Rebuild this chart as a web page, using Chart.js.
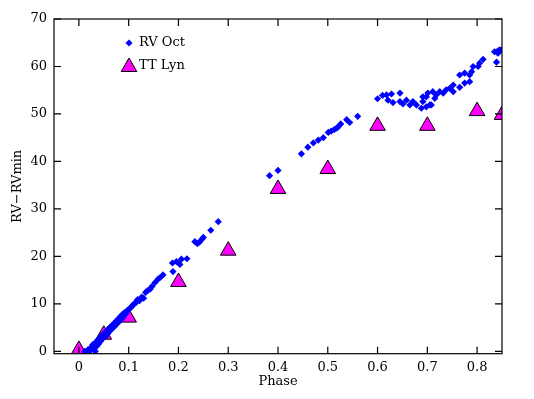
<!DOCTYPE html>
<html>
<head>
<meta charset="utf-8">
<script src="https://cdn.jsdelivr.net/npm/chart.js@4"></script>
<style>
  html, body { margin: 0; padding: 0; background: #fff; }
  #wrap { width: 534px; height: 399px; }
</style>
</head>
<body>
<div id="wrap"><canvas id="rvChart"></canvas></div>
<script>
// RV Oct radial velocity curve (phase, RV - RVmin)
const rvOctPhase = [
  0.012, 0.018, 0.022, 0.025, 0.028, 0.030, 0.033, 0.034, 0.036, 0.038,
  0.040, 0.042, 0.044, 0.046, 0.048, 0.050, 0.053, 0.055, 0.057, 0.059,
  0.061, 0.063, 0.065, 0.067, 0.069, 0.071, 0.073, 0.075, 0.077, 0.079,
  0.081, 0.083, 0.085, 0.087, 0.089, 0.091, 0.094, 0.097, 0.100, 0.103,
  0.106, 0.109, 0.112, 0.115, 0.118, 0.122, 0.126, 0.130, 0.134, 0.138,
  0.143, 0.147, 0.153, 0.159, 0.164, 0.169, 0.188, 0.189, 0.196, 0.203,
  0.206, 0.217, 0.233, 0.238, 0.242, 0.247, 0.250, 0.265, 0.280,
  0.383, 0.400, 0.447, 0.460, 0.471, 0.481, 0.491, 0.501, 0.507, 0.513,
  0.518, 0.522, 0.526, 0.538, 0.544, 0.560,
  0.600, 0.610, 0.618, 0.628, 0.645, 0.621, 0.631, 0.645, 0.651, 0.658,
  0.665, 0.671, 0.678, 0.688, 0.691, 0.691, 0.698, 0.698, 0.701, 0.705,
  0.708, 0.711, 0.715, 0.718, 0.725, 0.732, 0.738, 0.745, 0.752, 0.752,
  0.765, 0.765, 0.775, 0.775, 0.785, 0.785, 0.789, 0.792, 0.802, 0.805,
  0.812, 0.835, 0.839, 0.842, 0.845, 0.849, 0.839
];
const rvOctValue = [
  0.0, 0.3, 0.0, 0.9, 1.4, 0.4, 0.0, 1.9, 1.1, 2.4,
  1.6, 2.9, 2.2, 3.3, 2.7, 3.7, 3.1, 4.2, 3.6, 4.7,
  4.1, 5.1, 4.6, 5.5, 5.0, 5.9, 5.4, 6.4, 5.9, 6.8,
  6.3, 7.3, 6.8, 7.7, 7.2, 8.1, 7.9, 8.6, 8.8, 9.1,
  9.4, 9.8, 10.1, 10.3, 10.9, 10.7, 11.4, 11.2, 12.4, 12.8,
  13.1, 13.7, 14.5, 15.2, 15.6, 16.1, 18.6, 16.8, 18.9, 18.3,
  19.4, 19.5, 23.1, 22.7, 23.0, 23.6, 24.0, 25.5, 27.3,
  37.0, 38.1, 41.6, 43.0, 43.9, 44.5, 45.0, 46.1, 46.4, 46.7,
  47.0, 47.4, 47.9, 48.8, 48.2, 49.5,
  53.2, 53.9, 54.0, 54.2, 54.4, 52.9, 52.4, 52.6, 52.1, 52.9,
  51.9, 52.6, 51.9, 51.2, 52.6, 53.6, 53.6, 51.5, 54.4, 51.9,
  51.9, 54.7, 53.3, 54.0, 54.7, 54.4, 55.1, 55.4, 56.1, 54.7,
  58.2, 55.6, 58.6, 56.5, 58.2, 56.8, 58.9, 60.0, 60.0, 60.7,
  61.5, 63.1, 63.1, 62.8, 63.5, 63.5, 60.9
];

// TT Lyn comparison curve
const ttLynPhase = [0.0, 0.05, 0.1, 0.2, 0.3, 0.4, 0.5, 0.6, 0.7, 0.8, 0.85];
const ttLynValue = [0.3, 3.5, 7.1, 14.6, 21.2, 34.2, 38.4, 47.5, 47.5, 50.6, 49.8];

const xTicks = [0, 0.1, 0.2, 0.3, 0.4, 0.5, 0.6, 0.7, 0.8];
const yTicks = [0, 10, 20, 30, 40, 50, 60, 70];

const fontFamily = '"DejaVu Serif", serif';

// frame with inward ticks on all four sides + legend inside the plot
const framePlugin = {
  id: 'frame',
  afterDraw(chart) {
    const {ctx, chartArea: a, scales: {x, y}} = chart;
    ctx.save();
    ctx.strokeStyle = '#000';
    ctx.lineWidth = 1.2;
    ctx.strokeRect(a.left, a.top, a.right - a.left, a.bottom - a.top);
    ctx.beginPath();
    xTicks.forEach(v => {
      const px = x.getPixelForValue(v);
      ctx.moveTo(px, a.bottom); ctx.lineTo(px, a.bottom - 7);
      ctx.moveTo(px, a.top); ctx.lineTo(px, a.top + 7);
    });
    yTicks.forEach(v => {
      const py = y.getPixelForValue(v);
      ctx.moveTo(a.left, py); ctx.lineTo(a.left + 7, py);
      ctx.moveTo(a.right, py); ctx.lineTo(a.right - 7, py);
    });
    ctx.stroke();

    // legend
    const lx = a.left + 75, ly1 = a.top + 24, ly2 = a.top + 47;
    ctx.fillStyle = '#0000ff';
    ctx.beginPath();
    ctx.moveTo(lx, ly1 - 3.5); ctx.lineTo(lx + 3.5, ly1);
    ctx.lineTo(lx, ly1 + 3.5); ctx.lineTo(lx - 3.5, ly1);
    ctx.closePath(); ctx.fill();
    ctx.fillStyle = '#ff00ff';
    ctx.strokeStyle = '#000';
    ctx.lineWidth = 1;
    ctx.beginPath();
    ctx.moveTo(lx, ly2 - 8); ctx.lineTo(lx + 7.8, ly2 + 5.5);
    ctx.lineTo(lx - 7.8, ly2 + 5.5); ctx.closePath();
    ctx.fill(); ctx.stroke();
    ctx.fillStyle = '#000';
    ctx.font = '13px ' + fontFamily;
    ctx.textBaseline = 'middle';
    ctx.fillText('RV Oct', lx + 10, ly1);
    ctx.fillText('TT Lyn', lx + 10, ly2);
    ctx.restore();
  }
};

const ctx = document.getElementById('rvChart').getContext('2d');

new Chart(ctx, {
  type: 'scatter',
  data: {
    datasets: [
      {
        label: 'RV Oct',
        data: rvOctPhase.map((p, i) => ({x: p, y: rvOctValue[i]})),
        pointStyle: 'rectRot',
        pointRadius: 3.6,
        backgroundColor: '#0000ff',
        borderColor: '#0000ff',
        borderWidth: 0
      },
      {
        label: 'TT Lyn',
        data: ttLynPhase.map((p, i) => ({x: p, y: ttLynValue[i]})),
        pointStyle: 'triangle',
        pointRadius: 9,
        backgroundColor: '#ff00ff',
        borderColor: '#000000',
        borderWidth: 1
      }
    ]
  },
  options: {
    responsive: true,
    maintainAspectRatio: false,
    animation: false,
    layout: { padding: { left: 0, top: 19, right: 32, bottom: 0 } },
    plugins: {
      legend: { display: false },
      tooltip: { enabled: false }
    },
    scales: {
      x: {
        type: 'linear',
        min: -0.05,
        max: 0.85,
        afterBuildTicks: s => { s.ticks = xTicks.map(v => ({value: v})); },
        afterFit: s => { s.height = 45.3; },
        grid: { display: false, drawTicks: false },
        border: { display: false },
        ticks: {
          padding: 6,
          color: '#000',
          font: { family: fontFamily, size: 13 },
          callback: v => v === 0 ? '0' : v.toFixed(1)
        },
        title: {
          display: true,
          text: 'Phase',
          color: '#000',
          font: { family: fontFamily, size: 13 },
          padding: { top: 0, bottom: 10 }
        }
      },
      y: {
        type: 'linear',
        min: -0.5,
        max: 70,
        afterBuildTicks: s => { s.ticks = yTicks.map(v => ({value: v})); },
        afterFit: s => { s.width = 54; },
        grid: { display: false, drawTicks: false },
        border: { display: false },
        ticks: {
          padding: 7,
          color: '#000',
          font: { family: fontFamily, size: 13 }
        },
        title: {
          display: true,
          text: 'RV−RVmin',
          color: '#000',
          font: { family: fontFamily, size: 13 },
          padding: { top: 10, bottom: 0 }
        }
      }
    }
  },
  plugins: [framePlugin]
});
</script>
</body>
</html>
